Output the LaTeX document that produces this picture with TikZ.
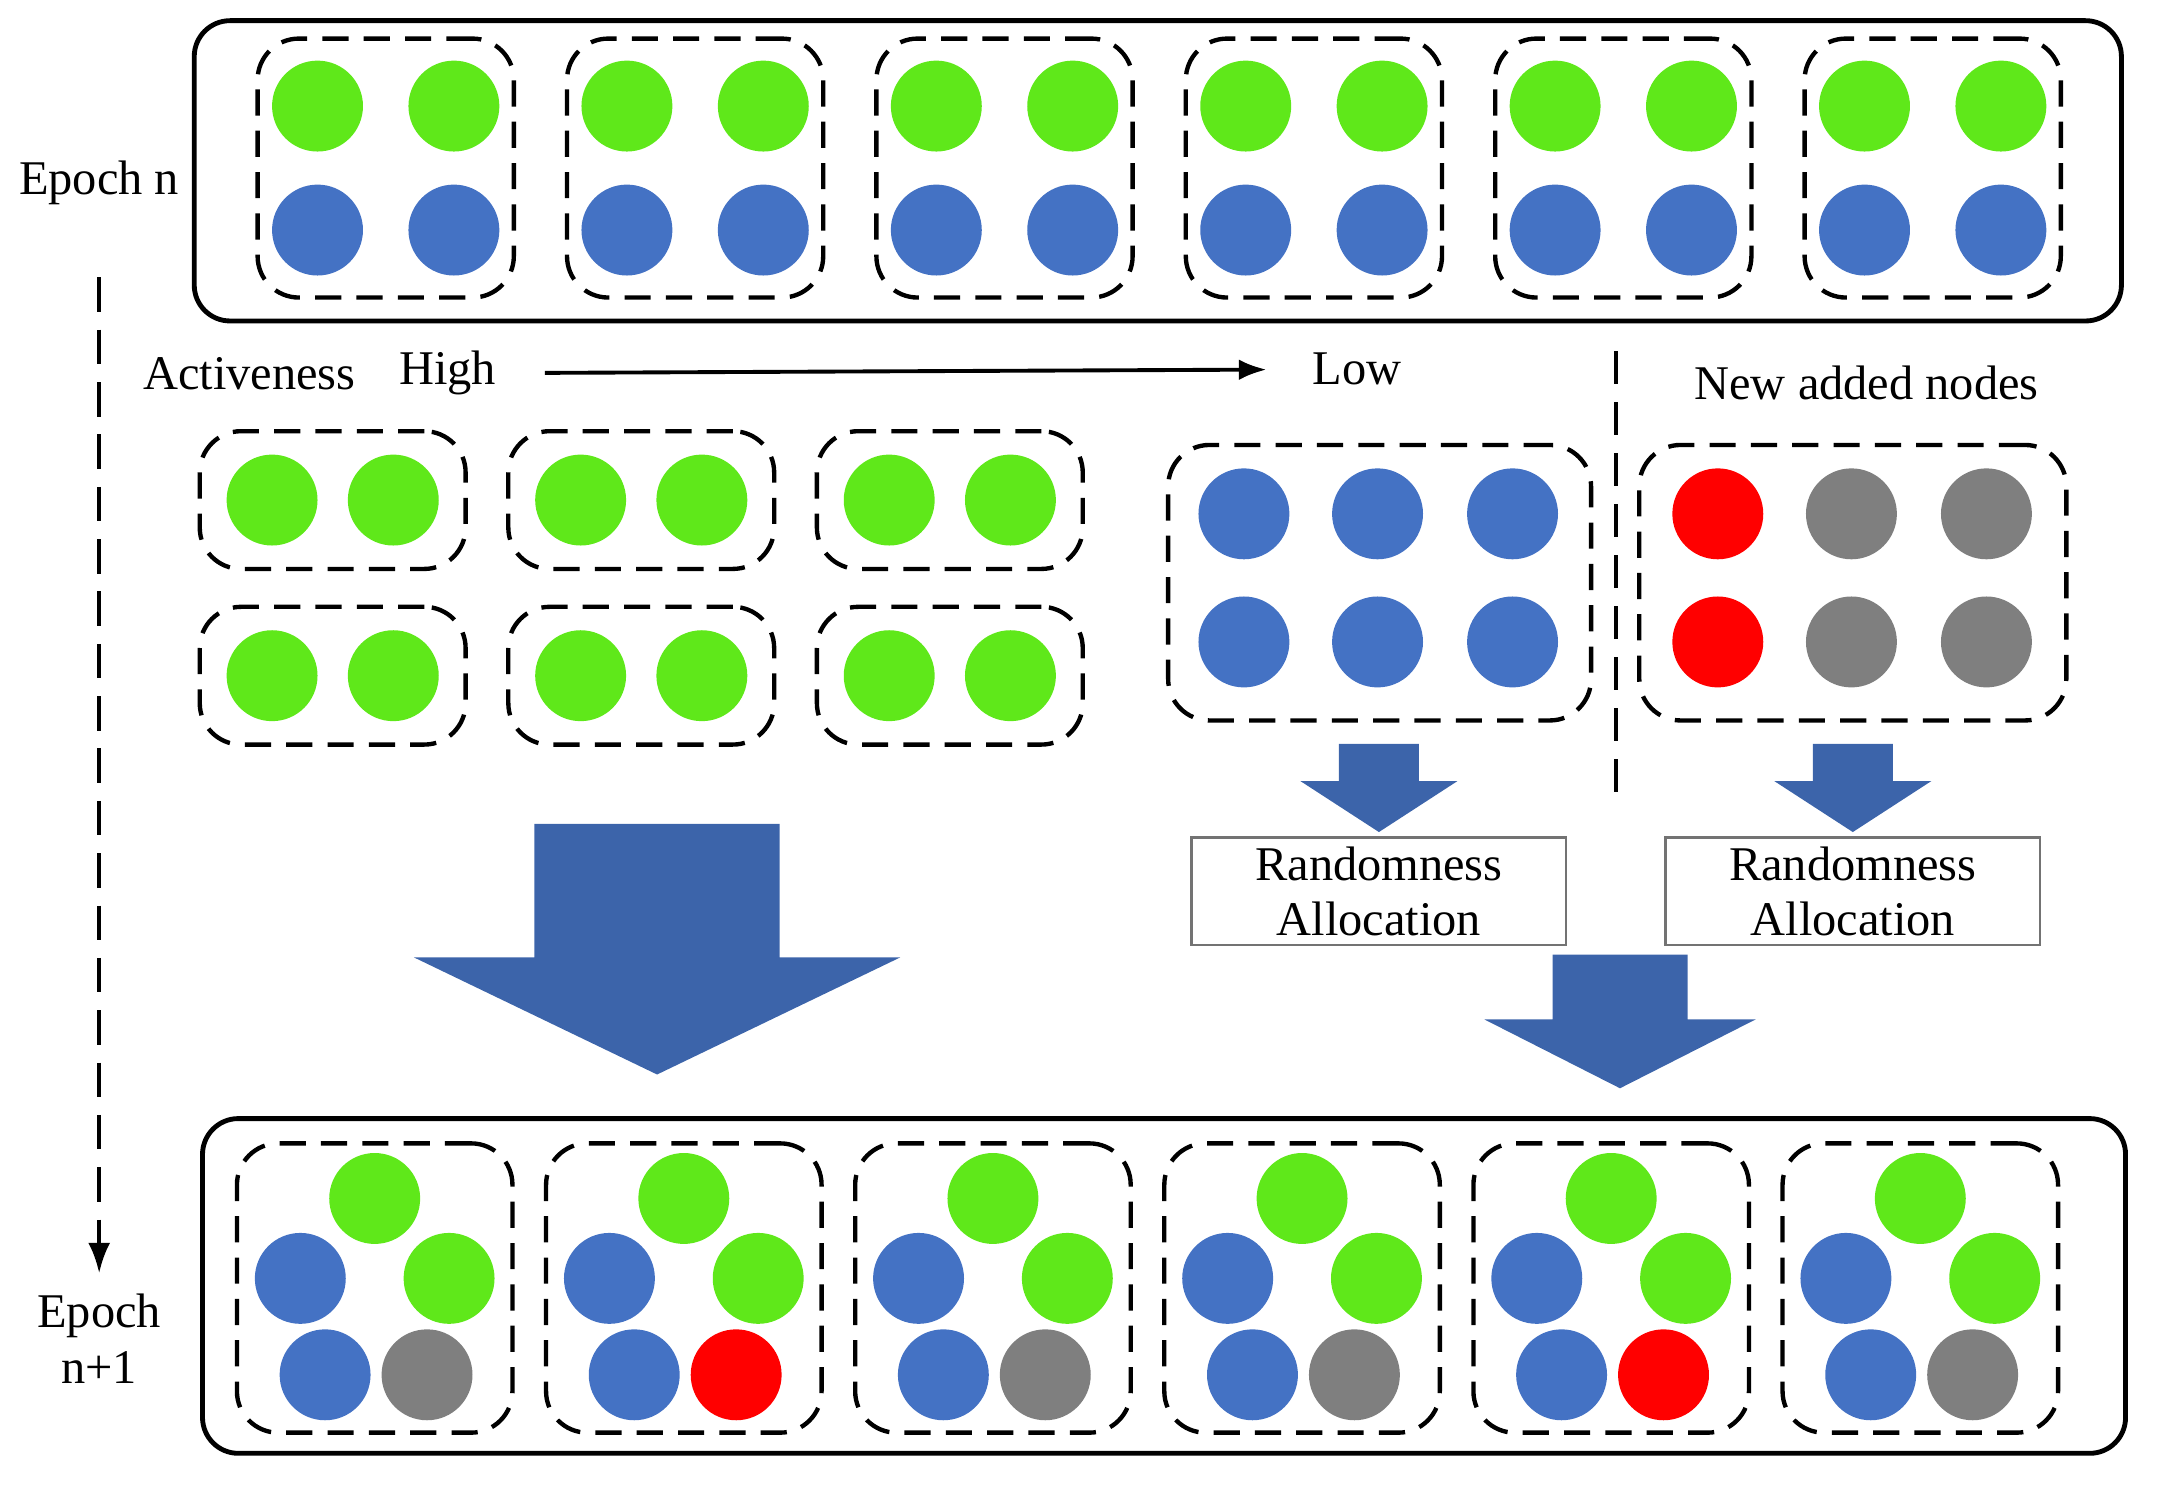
\documentclass[tikz,border=0pt]{standalone}
\usepackage{fontspec}
\setmainfont{Liberation Serif}
\usetikzlibrary{positioning,arrows.meta}
\definecolor{act}{HTML}{5FE81A}
\definecolor{idle}{HTML}{4472C4}
\definecolor{newgray}{HTML}{7F7F7F}
\definecolor{newred}{HTML}{FF0000}
\definecolor{flow}{HTML}{3C64AA}
% fat downward block arrow: centre x, top y, neck y, tip y, shaft half, head half
\newcommand{\blockdown}[6]{%
  \fill[blockarrow] (#1-#5,#2) -- (#1+#5,#2) -- (#1+#5,#3) -- (#1+#6,#3)
    -- (#1,#4) -- (#1-#6,#3) -- (#1-#5,#3) -- cycle;}

\begin{document}
\begin{tikzpicture}[x=0.1mm, y=-0.1mm, >=Latex, font=\fontsize{10}{11.5}\selectfont,
      dot/.style={circle, inner sep=0pt, minimum size=6.6mm},
      epochbox/.style={draw, rounded corners=2.6mm, line width=1pt, inner sep=0pt},
      grp/.style={draw, dash pattern=on 1.9mm off 1.1mm, rounded corners=3mm,
                  line width=0.9pt, inner sep=0pt},
      allocbox/.style={draw=black!55, line width=0.5pt, align=center,
                  minimum width=27.2mm, minimum height=7.8mm, inner sep=1pt},
      blockarrow/.style={fill=flow}]
    \useasboundingbox (0,0) rectangle (1568,1081);

    % epoch n
    \node[epochbox, minimum width=139.9mm, minimum height=21.8mm] (top) at (840.5,124) {};
    \node (epn) at (72,133) {Epoch n};
    \foreach \g in {0,...,5} {
      \pgfmathsetmacro\cx{280+224.6*\g}
      \node[grp, minimum width=18.6mm, minimum height=18.8mm] (tg\g) at (\cx,122) {};
      \node[dot, fill=act] (tga\g) at (\cx-49.5,77) {};
      \node[dot, fill=act] (tgb\g) at (\cx+49.5,77) {};
      \node[dot, fill=idle] (tba\g) at (\cx-49.5,167) {};
      \node[dot, fill=idle] (tbb\g) at (\cx+49.5,167) {};
    }

    % activeness scale
    \node (act) at (181,271) {Activeness};
    \node (high) at (325,271) {High};
    \node (low) at (985,268) {Low};
    \draw[-{Latex[length=2mm,width=1.5mm]}, line width=0.8pt, shorten <=2.3mm, shorten >=2.1mm]
      (high) -- (low);
    \node (newlbl) at (1355,278) {New added nodes};
    \draw[dash pattern=on 2.4mm off 1.3mm, line width=0.8pt] (1173,255) -- (1173,585);

    % active pairs
    \foreach \c/\cx in {0/241.5,1/465.5,2/689.5}
      \foreach \r/\cy in {0/363,1/490.5} {
        \node[grp, minimum width=19.3mm, minimum height=10mm] (mg\c\r) at (\cx,\cy) {};
        \node[dot, fill=act] (mga\c\r) at (\cx-44,\cy) {};
        \node[dot, fill=act] (mgb\c\r) at (\cx+44,\cy) {};
      }

    % low activeness and new nodes
    \node[grp, minimum width=30.7mm, minimum height=20mm] (lowgrp) at (1001.5,423) {};
    \node[grp, minimum width=31mm, minimum height=20mm] (newgrp) at (1345,423) {};
    \foreach \i/\x in {0/903,1/1000,2/1098} {
      \node[dot, fill=idle] (lwa\i) at (\x,373) {};
      \node[dot, fill=idle] (lwb\i) at (\x,466) {};
    }
    \foreach \i/\x/\col in {0/1247/newred,1/1344/newgray,2/1442/newgray} {
      \node[dot, fill=\col] (nwa\i) at (\x,373) {};
      \node[dot, fill=\col] (nwb\i) at (\x,466) {};
    }
    \blockdown{1001}{540}{567}{604}{29}{57}
    \blockdown{1345}{540}{567}{604}{29}{57}
    \node[allocbox] (alloc1) at (1001,647) {Randomness\\Allocation};
    \node[allocbox] (alloc2) at (1345,647) {Randomness\\Allocation};

    \blockdown{477}{598}{695}{780}{89}{176.5}
    \blockdown{1176}{693}{740}{790}{49}{98.5}

    % epoch n+1
    \node[epochbox, minimum width=139.6mm, minimum height=24.3mm] (bot) at (845,933.5) {};
    \node[align=center] (epn1) at (72,972) {Epoch\\n+1};
    \foreach \g/\col in {0/newgray,1/newred,2/newgray,3/newgray,4/newred,5/newgray} {
      \pgfmathsetmacro\cx{272+224.4*\g}
      \node[grp, minimum width=20mm, minimum height=21mm] (bg\g) at (\cx,935) {};
      \node[dot, fill=act] (bta\g) at (\cx,870) {};
      \node[dot, fill=idle] (bma\g) at (\cx-54,928) {};
      \node[dot, fill=act] (bmb\g) at (\cx+54,928) {};
      \node[dot, fill=idle] (bla\g) at (\cx-36,998) {};
      \node[dot, fill=\col] (blb\g) at (\cx+38,998) {};
    }

    \draw[-{Latex[length=2.2mm,width=1.6mm]}, dash pattern=on 2.5mm off 1.3mm, line width=0.8pt,
      shorten <=4mm, shorten >=0.3mm] (epn) -- (epn1);
  \end{tikzpicture}
\end{document}
